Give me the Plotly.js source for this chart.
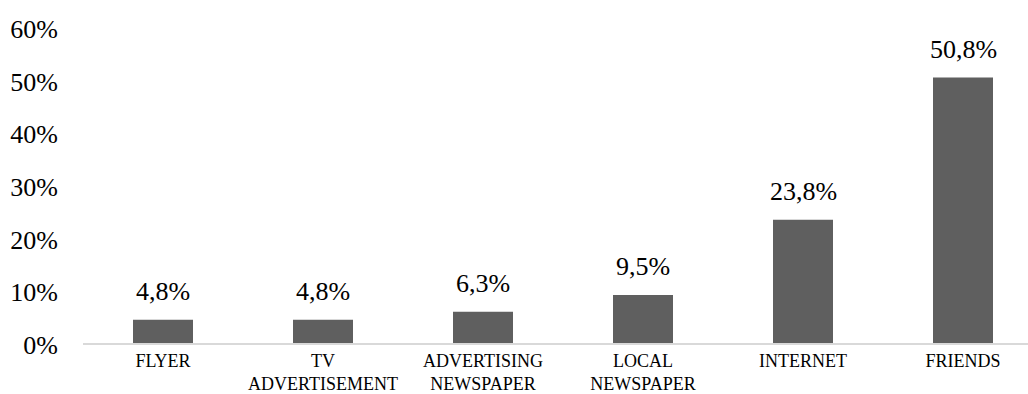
<!DOCTYPE html>
<html>
<head>
<meta charset="utf-8">
<script src="https://cdn.plot.ly/plotly-3.0.1.min.js"></script>
<style>html,body{margin:0;padding:0;background:#fff;}#chart{width:1028px;height:394px;}</style>
</head>
<body>
<div id="chart"></div>
<script>
const categories = ["FLYER", "TV<br>ADVERTISEMENT", "ADVERTISING<br>NEWSPAPER", "LOCAL<br>NEWSPAPER", "INTERNET", "FRIENDS"];
const shares = [0.048, 0.048, 0.063, 0.095, 0.238, 0.508];
const shareLabels = ["4,8%", "4,8%", "6,3%", "9,5%", "23,8%", "50,8%"];
const yTicks = [0, 0.1, 0.2, 0.3, 0.4, 0.5, 0.6];

const font = "Liberation Serif";

const annotations = categories.map((c, i) => ({
  x: c, y: shares[i], xref: 'x', yref: 'y',
  text: shareLabels[i], showarrow: false,
  xanchor: 'center', yanchor: 'middle', yshift: 28,
  font: {family: font, size: 26, color: '#000'}
}));

Plotly.newPlot('chart', [{
  type: 'bar',
  x: categories,
  y: shares,
  marker: {color: '#5f5f5f'},
  width: 0.375,
  hoverinfo: 'skip'
}], {
  width: 1028, height: 394,
  margin: {l: 83, r: 0, t: 28.6, b: 49.4, pad: 0},
  separators: ',.',
  paper_bgcolor: '#fff', plot_bgcolor: '#fff',
  showlegend: false,
  font: {family: font, color: '#000'},
  annotations: annotations,
  shapes: [{
    type: 'line', layer: 'above',
    xref: 'paper', x0: 0, x1: 1,
    yref: 'y', ysizemode: 'pixel', yanchor: 0, y0: 1, y1: 1,
    line: {color: '#d9d9d9', width: 2}
  }],
  xaxis: {
    range: [-0.5, -0.5 + 945/160],
    showgrid: false, zeroline: false, showline: false,
    ticks: '', ticklabelstandoff: 3,
    tickfont: {family: font, size: 18, color: '#000'},
    fixedrange: true
  },
  yaxis: {
    range: [0, 0.6],
    tickvals: yTicks,
    tickformat: '.0%',
    showgrid: false, zeroline: false, showline: false,
    ticks: '', ticklabelstandoff: 24,
    tickfont: {family: font, size: 26, color: '#000'},
    fixedrange: true
  }
}, {displayModeBar: false, staticPlot: true});
</script>
</body>
</html>
